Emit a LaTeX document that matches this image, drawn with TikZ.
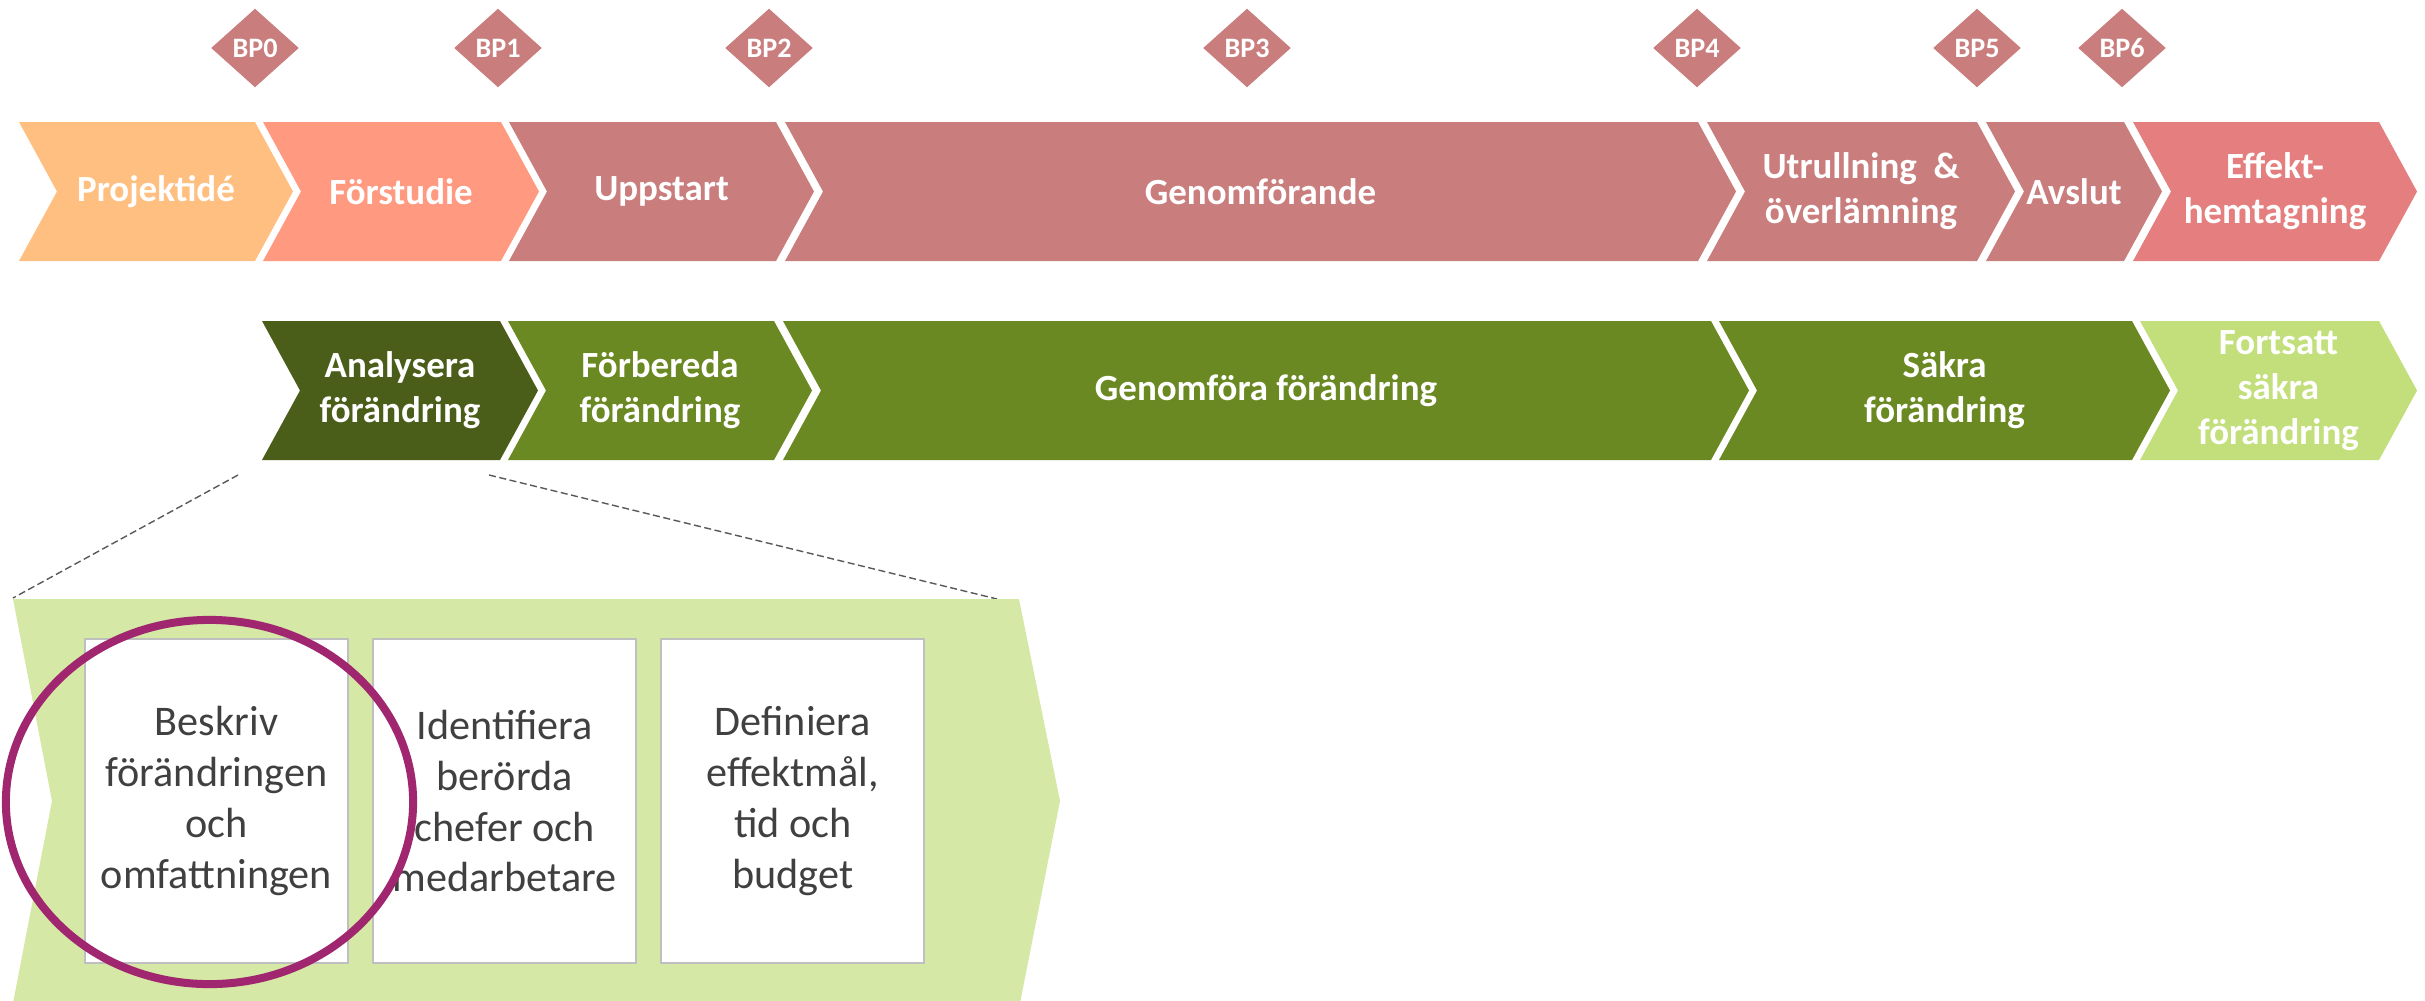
\documentclass[tikz,border=0pt]{standalone}
\usepackage{fontspec}
\setmainfont{Carlito}
\usetikzlibrary{positioning}
\usetikzlibrary{shapes.geometric}
\definecolor{fasorange}{HTML}{FFBF80}
\definecolor{fassalmon}{HTML}{FF9980}
\definecolor{fasrose}{HTML}{C97D7D}
\definecolor{fasred}{HTML}{E57E7E}
\definecolor{gronmork}{HTML}{4A5E1A}
\definecolor{gron}{HTML}{6B8923}
\definecolor{gronljus}{HTML}{C2DF7C}
\definecolor{panelgron}{HTML}{D5E8A6}
\definecolor{ringlila}{HTML}{A0276F}
\definecolor{textgra}{HTML}{404040}
\tikzstyle{every node}=[font=\small]
\tikzstyle{fastext}=[text=white,align=center,inner sep=0pt,font=\bfseries\fontsize{10.5}{12.8}\selectfont]
\tikzstyle{bp}=[diamond,fill=fasrose,minimum width=0.88cm,minimum height=0.79cm,inner sep=0pt,text=white,font=\bfseries\fontsize{8}{9}\selectfont]
\tikzstyle{aktivitet}=[draw=black!25,line width=0.02cm,fill=white,minimum width=2.63cm,minimum height=3.24cm,inner sep=0pt,align=center,text=textgra,font=\fontsize{12}{14.5}\selectfont]
\tikzstyle{zoomlinje}=[black!65,dash pattern=on 2pt off 1pt,line width=0.4pt]

\begin{document}
\begin{tikzpicture}[x=0.01cm,y=-0.01cm]
\useasboundingbox (0,0) rectangle (2425,1000);

% beslutspunkter
\foreach \x/\n in {255/0,498/1,769/2,1247/3,1697/4,1977/5,2122/6}
  \node[bp] (bp\n) at (\x,48) {BP\n};

% projektfaser
\foreach \xl/\xr/\col/\nm/\txt in {19/255/fasorange/idé/{Projektidé},
    263/501/fassalmon/forstudie/{Förstudie},
    509/776/fasrose/uppstart/{Uppstart},
    785/1698/fasrose/genomf/{Genomförande},
    1707/1977/fasrose/utrull/{Utrullning\ \ \&\\överlämning},
    1986/2124/fasrose/avslut/{Avslut},
    2133/2379/fasred/effekt/{Effekt-\\hemtagning}}{
  \fill[\col] (\xl,122) -- (\xr,122) -- (\xr+38,191.5) -- (\xr,261) -- (\xl,261) -- (\xl+38,191.5) -- cycle;
  \node[fastext] (\nm) at ({(\xl+\xr+38)/2},191.5) {\txt};
}

% förändringsfaser
\foreach \xl/\xr/\col/\nm/\txt in {262/500/gronmork/analys/{Analysera\\förändring},
    508/774/gron/forbered/{Förbereda\\förändring},
    783/1711/gron/genomfora/{Genomföra förändring},
    1719/2132/gron/sakra/{Säkra\\förändring},
    2140/2379/gronljus/fortsatt/{Fortsatt\\säkra\\förändring}}{
  \fill[\col] (\xl,321) -- (\xr,321) -- (\xr+38,390.5) -- (\xr,460) -- (\xl,460) -- (\xl+38,390.5) -- cycle;
  \node[fastext] (\nm) at ({(\xl+\xr+38)/2},390.5) {\txt};
}

% inzoomning av analysfasen
\coordinate (zv) at (238,475);
\coordinate (zh) at (489,475);
\coordinate (pv) at (13,598);
\coordinate (ph) at (997,599);
\draw[zoomlinje] (zv) -- (pv);
\draw[zoomlinje] (zh) -- (ph);
\fill[panelgron] (13,599) -- (1019,599) -- (1060,801) -- (1020,1003) -- (13,1003) -- (52,801) -- cycle;

\node[aktivitet] (akt1) at (216.5,801) {Beskriv\\förändringen\\och\\omfattningen};
\node[aktivitet,right=0.23cm of akt1] (akt2) {Identifiera\\berörda\\chefer och\\medarbetare};
\node[aktivitet,right=0.23cm of akt2] (akt3) {Definiera\\effektmål,\\tid och\\budget};

\draw[ringlila,line width=0.08cm] (209.5,802) ellipse [x radius=2.035cm,y radius=1.82cm];
\end{tikzpicture}
\end{document}
